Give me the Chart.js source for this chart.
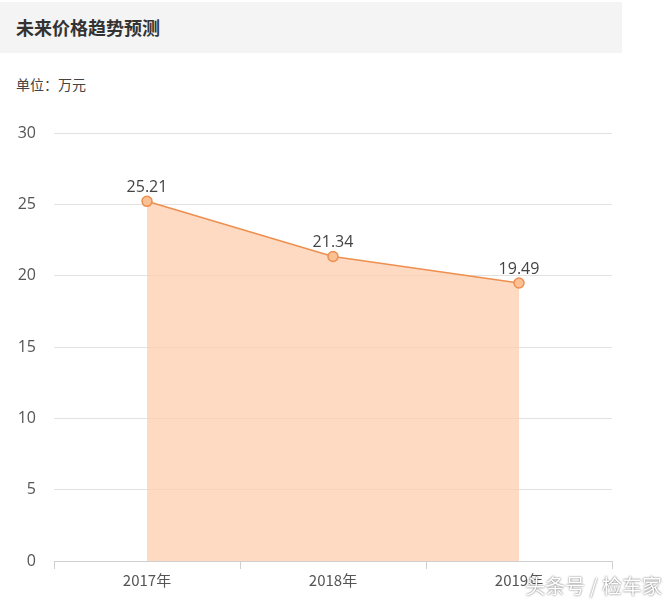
<!DOCTYPE html>
<html>
<head>
<meta charset="utf-8">
<script src="https://cdn.jsdelivr.net/npm/chart.js@4/dist/chart.umd.min.js"></script>
<style>
  body { margin: 0; background: #fff; font-family: "Noto Sans CJK SC", "Open Sans", sans-serif; }
  #wrap { position: relative; width: 670px; height: 608px; overflow: hidden; }
  #title { position: absolute; left: 0; top: 2px; width: 622px; height: 51px; background: #f4f4f4;
           color: #333; font-size: 18px; font-weight: bold; line-height: 51px; padding-left: 16px; box-sizing: border-box; }
  #unit { position: absolute; left: 16px; top: 74px; color: #444; font-size: 14px; }
  #c { position: absolute; left: 0; top: 0; }
</style>
</head>
<body>
<div id="wrap">
  <div id="title">未来价格趋势预测</div>
  <div id="unit">单位：万元</div>
  <canvas id="c" width="670" height="608"></canvas>
</div>
<script>
// data
var years = ['2017年', '2018年', '2019年'];
var prices = [25.21, 21.34, 19.49];
var yTicks = [0, 5, 10, 15, 20, 25, 30];

// value labels above each point + watermark
var labelPlugin = {
    id: 'labels',
    afterDatasetsDraw: function (chart) {
        var ctx = chart.ctx;
        var meta = chart.getDatasetMeta(0);
        ctx.save();
        ctx.font = '16px "Open Sans", sans-serif';
        ctx.fillStyle = '#444';
        ctx.textAlign = 'center';
        ctx.textBaseline = 'bottom';
        meta.data.forEach(function (pt, i) {
            ctx.fillText(prices[i].toFixed(2), pt.x, pt.y - 6);
        });
        ctx.restore();
    },
    afterDraw: function (chart) {
        var ctx = chart.ctx;
        ctx.save();
        ctx.font = '20px "Noto Sans CJK SC", sans-serif';
        ctx.textAlign = 'right';
        ctx.textBaseline = 'middle';
        ctx.shadowColor = 'rgba(0,0,0,0.7)';
        ctx.shadowBlur = 2;
        ctx.fillStyle = '#fff';
        ctx.fillText('头条号 / 检车家', 662, 586);
        ctx.restore();
    }
};

var ctx = document.getElementById('c').getContext('2d');
var chart = new Chart(ctx, {
    type: 'line',
    data: {
        labels: years,
        datasets: [{
            data: prices,
            borderColor: '#ee8f4f',
            borderWidth: 1.5,
            backgroundColor: 'rgba(252, 206, 172, 0.75)',
            fill: 'origin',
            tension: 0,
            pointRadius: 5,
            pointBackgroundColor: '#fbc093',
            pointBorderColor: '#ee8f4f',
            pointBorderWidth: 1.5
        }]
    },
    options: {
        responsive: false,
        animation: false,
        layout: { padding: { top: 133, right: 58, left: 0, bottom: 0 } },
        plugins: { legend: { display: false }, tooltip: { enabled: false } },
        scales: {
            x: {
                offset: true,
                grid: { offset: true, drawOnChartArea: false, drawTicks: true, tickLength: 8, color: '#cfcfcf' },
                border: { color: '#cfcfcf' },
                ticks: { color: '#555', font: { size: 15, family: '"Noto Sans CJK SC", sans-serif' }, padding: 2 },
                afterFit: function (s) { s.height = 47; }
            },
            y: {
                min: 0, max: 30,
                afterBuildTicks: function (s) { s.ticks = yTicks.map(function (v) { return { value: v }; }); },
                grid: { color: '#e2e2e2', drawTicks: false },
                border: { display: false },
                ticks: { color: '#555', font: { size: 16, family: '"Open Sans", sans-serif' }, padding: 18 },
                afterFit: function (s) { s.width = 54; }
            }
        }
    },
    plugins: [labelPlugin]
});
</script>
</body>
</html>
